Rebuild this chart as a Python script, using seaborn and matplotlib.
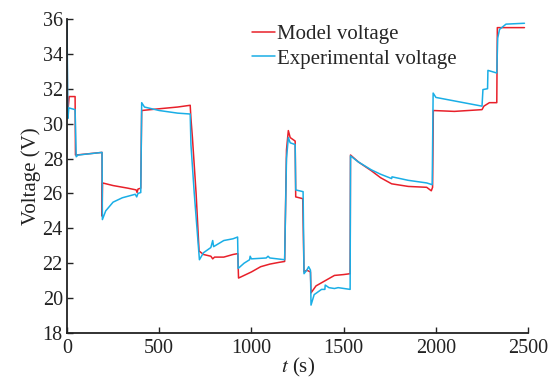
"""Model vs experimental stack voltage over time."""

import matplotlib
matplotlib.use("Agg")
import matplotlib.pyplot as plt
import pandas as pd
import seaborn as sns

# breakpoints (time in s, voltage in V)
t_model = [0, 3, 12, 44, 46, 50, 190, 190, 193, 250, 330, 375, 380, 385, 400,
           405, 500, 600, 668, 672, 680, 700, 716, 740, 780, 790, 800, 850, 900,
           926, 930, 960, 1000, 1050, 1100, 1150, 1180, 1190, 1200, 1210, 1237,
           1240, 1278, 1285, 1300, 1320, 1323, 1350, 1400, 1450, 1500, 1535,
           1537, 1580, 1650, 1700, 1760, 1850, 1950, 1975, 1982, 1986, 2100,
           2250, 2260, 2290, 2330, 2333, 2480]
v_model = [36.0, 30.5, 31.55, 31.55, 28.2, 28.2, 28.35, 24.7, 26.6, 26.45, 26.3,
           26.2, 26.05, 26.25, 26.3, 30.75, 30.85, 30.95, 31.05, 30.3, 29.2, 26.0,
           22.7, 22.5, 22.4, 22.25, 22.35, 22.35, 22.5, 22.55, 21.15, 21.3, 21.5,
           21.8, 21.95, 22.05, 22.1, 28.5, 29.6, 29.2, 29.0, 25.8, 25.7, 21.5,
           21.6, 21.5, 20.3, 20.7, 21.0, 21.3, 21.35, 21.4, 28.2, 27.8, 27.3,
           26.9, 26.55, 26.4, 26.35, 26.15, 26.35, 30.75, 30.7, 30.8, 31.0, 31.2,
           31.2, 35.5, 35.5]

t_exp = [0, 5, 10, 44, 50, 60, 190, 192, 210, 250, 300, 370, 378, 385, 400,
         405, 420, 500, 600, 668, 672, 690, 718, 740, 780, 790, 795, 850, 900,
         925, 928, 960, 990, 993, 1000, 1080, 1090, 1100, 1180, 1190, 1200,
         1210, 1237, 1240, 1280, 1285, 1300, 1310, 1320, 1323, 1340, 1380,
         1398, 1400, 1420, 1450, 1470, 1535, 1537, 1580, 1650, 1700, 1760,
         1762, 1850, 1950, 1980, 1985, 2000, 2100, 2250, 2255, 2280, 2282,
         2330, 2335, 2345, 2380, 2480]
v_exp = [36.0, 30.3, 30.9, 30.8, 28.1, 28.2, 28.35, 24.5, 25.0, 25.5, 25.75,
         25.95, 25.8, 26.0, 26.05, 31.2, 30.95, 30.75, 30.6, 30.55, 28.8, 26.0,
         22.2, 22.6, 22.9, 23.3, 22.95, 23.3, 23.4, 23.5, 21.7, 22.0, 22.2,
         22.4, 22.25, 22.3, 22.4, 22.3, 22.2, 28.0, 29.2, 28.9, 28.8, 26.2,
         26.1, 21.4, 21.6, 21.8, 21.6, 19.6, 20.2, 20.5, 20.5, 20.75, 20.6,
         20.55, 20.6, 20.5, 28.15, 27.8, 27.35, 27.1, 26.85, 26.95, 26.75,
         26.6, 26.5, 31.75, 31.5, 31.3, 31.0, 31.95, 32.0, 33.05, 32.9, 34.9,
         35.4, 35.7, 35.75]

labels = ["Model voltage", "Experimental voltage"]
colors = ["#e8202a", "#1aaee6"]

sns.set_theme(style="ticks")
plt.rcParams["font.family"] = ["Liberation Serif", "DejaVu Serif"]
plt.rcParams["mathtext.fontset"] = "stix"

df = pd.concat([
    pd.DataFrame({"t": t_model, "v": v_model, "series": labels[0]}),
    pd.DataFrame({"t": t_exp, "v": v_exp, "series": labels[1]}),
], ignore_index=True)

fig = plt.figure(figsize=(5.49, 3.78), dpi=100)
ax = fig.add_axes([0.122, 0.119, 0.84, 0.831])

sns.lineplot(data=df, x="t", y="v", hue="series", palette=colors,
             estimator=None, sort=False, linewidth=1.1, ax=ax)

ax.set_xlim(0, 2500)
ax.set_ylim(18, 36)
ax.set_xticks(range(0, 2501, 500))
ax.set_yticks(range(18, 37, 2))
ax.tick_params(direction="in", length=4, width=1, labelsize=14.5,
               colors="#222222")
ax.tick_params(axis="x", pad=4)
ax.tick_params(axis="y", pad=3)
for side in ["top", "right"]:
    ax.spines[side].set_visible(False)
for side in ["left", "bottom"]:
    ax.spines[side].set_linewidth(1.3)
    ax.spines[side].set_color("#222222")
ax.set_xlabel("$t$ (s)", fontsize=15, labelpad=-1, color="#222222")
ax.set_ylabel("Voltage (V)", fontsize=15, labelpad=1, color="#222222")

ax.legend(loc="upper left", bbox_to_anchor=(0.433, 0.974),
          bbox_transform=fig.transFigure, frameon=False, fontsize=15,
          handlelength=1.1, handletextpad=0.1, labelspacing=0.25,
          borderpad=0.2)

fig.savefig("out.png", dpi=100)
